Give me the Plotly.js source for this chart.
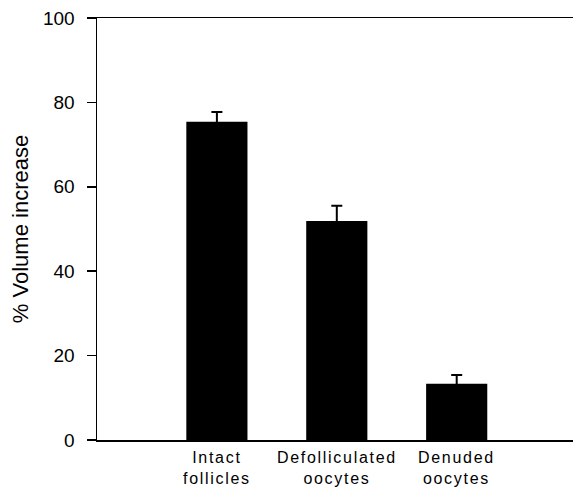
<!DOCTYPE html>
<html>
<head>
<meta charset="utf-8">
<script src="https://cdn.plot.ly/plotly-3.0.1.min.js"></script>
<style>
  html, body { margin: 0; padding: 0; background: #fff; }
  #chart { width: 573px; height: 491px; }
  .annotation-text { letter-spacing: 1.7px; }
</style>
</head>
<body>
<div id="chart"></div>
<script>
// Data
const categories = ["Intact follicles", "Defolliculated oocytes", "Denuded oocytes"];
const labelLine1 = ["Intact", "Defolliculated", "Denuded"];
const labelLine2 = ["follicles", "oocytes", "oocytes"];
const volumeIncrease = [75.4, 51.9, 13.3];
const errorSEM = [2.3, 3.6, 2.1];
const yTicks = [0, 20, 40, 60, 80, 100];

const FONT = "Liberation Sans, Arial, Helvetica, sans-serif";

const trace = {
  type: "bar",
  x: categories.map((_, i) => i),
  y: volumeIncrease,
  width: 0.51,
  marker: { color: "#000", line: { width: 0 } },
  error_y: {
    type: "data",
    array: errorSEM,
    symmetric: true,
    color: "#000",
    thickness: 2,
    width: 5.5
  },
  hoverinfo: "skip"
};

const annotations = categories.map((c, i) => ({
  x: i, xref: "x", y: 0, yref: "paper",
  text: labelLine1[i] + "<br>" + labelLine2[i],
  showarrow: false,
  xanchor: "center", yanchor: "top", yshift: -8,
  align: "center",
  borderpad: 0,
  font: { family: FONT, size: 16, color: "#000" }
}));

const layout = {
  width: 573,
  height: 491,
  margin: { l: 97, r: 0, t: 18, b: 51 },
  paper_bgcolor: "#fff",
  plot_bgcolor: "#fff",
  showlegend: false,
  font: { family: FONT, color: "#000" },
  xaxis: {
    range: [-1, 2.97],
    showgrid: false,
    zeroline: false,
    showline: true,
    linecolor: "#000",
    linewidth: 1.5,
    mirror: true,
    ticks: "",
    showticklabels: false,
    fixedrange: true
  },
  yaxis: {
    range: [0, 100],
    tickvals: yTicks,
    ticktext: yTicks.map(String),
    showgrid: false,
    zeroline: false,
    showline: true,
    linecolor: "#000",
    linewidth: 1.5,
    ticks: "outside",
    ticklen: 9,
    tickwidth: 1.5,
    tickcolor: "#000",
    ticklabelstandoff: 8,
    tickfont: { family: FONT, size: 19, color: "#000" },
    title: {
      text: "% Volume increase",
      font: { family: FONT, size: 22, color: "#000" },
      standoff: 8
    },
    fixedrange: true
  },
  annotations: annotations
};

Plotly.newPlot("chart", [trace], layout, { displayModeBar: false, staticPlot: true });
</script>
</body>
</html>
